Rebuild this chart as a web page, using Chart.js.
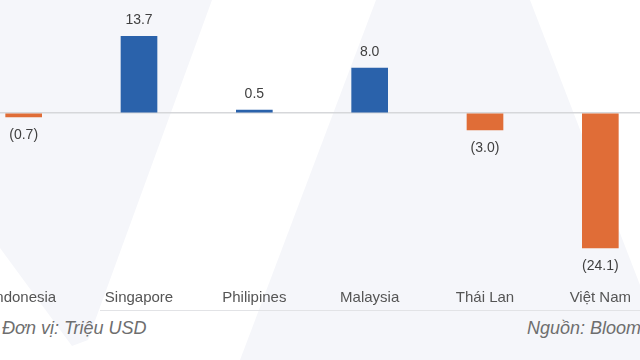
<!DOCTYPE html>
<html>
<head>
<meta charset="utf-8">
<script src="https://cdn.jsdelivr.net/npm/chart.js@4/dist/chart.umd.min.js"></script>
<style>
  html, body { margin: 0; padding: 0; }
  body { width: 640px; height: 360px; overflow: hidden; position: relative; background: #ffffff;
         font-family: "Liberation Sans", Arial, sans-serif; }
  .bg { position: absolute; left: 0; top: 0; width: 640px; height: 360px; background: #f5f6fa; }
  .bg1 { clip-path: polygon(0 0, 212px 0, 88px 340px, 72px 346px, 0 248px); }
  .bg2 { clip-path: polygon(376px 0, 530px 0, 640px 285px, 640px 360px, 240px 360px); }
  #wrap { position: absolute; left: -34px; top: 1px; width: 692px; height: 310px; }
  .rule { position: absolute; left: 100px; right: 0; top: 310px; height: 1px; background: #e2e3e6; }
  .note { position: absolute; top: 318px; font-size: 18px; font-style: italic; color: #6e6e6e; white-space: nowrap; }
</style>
</head>
<body>
<div class="bg bg1"></div>
<div class="bg bg2"></div>
<div id="wrap"><canvas id="barchart"></canvas></div>
<div class="rule"></div>
<div class="note" style="left:2px">Đơn vị: Triệu USD</div>
<div class="note" style="left:527px">Nguồn: Bloomberg</div>
<script>
const countries = ["Indonesia", "Singapore", "Philipines", "Malaysia", "Thái Lan", "Việt Nam"];
const netflows = [-0.7, 13.7, 0.5, 8.0, -3.0, -24.1];
const barcolors = netflows.map((v) => (v < 0 ? "#e06d37" : "#2a62ab"));

const ctx = document.getElementById("barchart").getContext("2d");

function formatValue(v) {
  return v < 0 ? "(" + Math.abs(v).toFixed(1) + ")" : v.toFixed(1);
}

const valueLabels = {
  id: "valueLabels",
  afterDatasetsDraw(chart) {
    const c = chart.ctx;
    c.save();
    c.font = "14px 'Liberation Sans', Arial, sans-serif";
    c.fillStyle = "#404040";
    c.textAlign = "center";
    c.textBaseline = "middle";
    chart.getDatasetMeta(0).data.forEach((bar, i) => {
      const v = netflows[i];
      c.fillText(formatValue(v), bar.x, v < 0 ? bar.y + 18 : bar.y - 16.5);
    });
    c.restore();
  }
};

new Chart(ctx, {
  type: "bar",
  data: {
    labels: countries,
    datasets: [{
      data: netflows,
      backgroundColor: barcolors,
      borderWidth: 0,
      barThickness: 36
    }]
  },
  options: {
    responsive: true,
    maintainAspectRatio: false,
    animation: false,
    layout: { padding: 0 },
    plugins: {
      legend: { display: false },
      tooltip: { enabled: false }
    },
    scales: {
      x: {
        grid: { display: false, drawTicks: false },
        border: { display: false },
        ticks: {
          color: "#555555",
          font: { size: 15, family: "'Liberation Sans', Arial, sans-serif" },
          padding: 2,
          maxRotation: 0,
          autoSkip: false
        },
        afterFit(scale) { scale.height = 24.4; }
      },
      y: {
        min: -31,
        max: 20,
        ticks: { display: false },
        grid: { drawTicks: false, color: "#d6d7da", lineWidth: 1.5 },
        border: { display: false },
        afterBuildTicks(scale) { scale.ticks = [{ value: 0 }]; },
        afterFit(scale) { scale.width = 0; }
      }
    }
  },
  plugins: [valueLabels]
});
</script>
</body>
</html>
